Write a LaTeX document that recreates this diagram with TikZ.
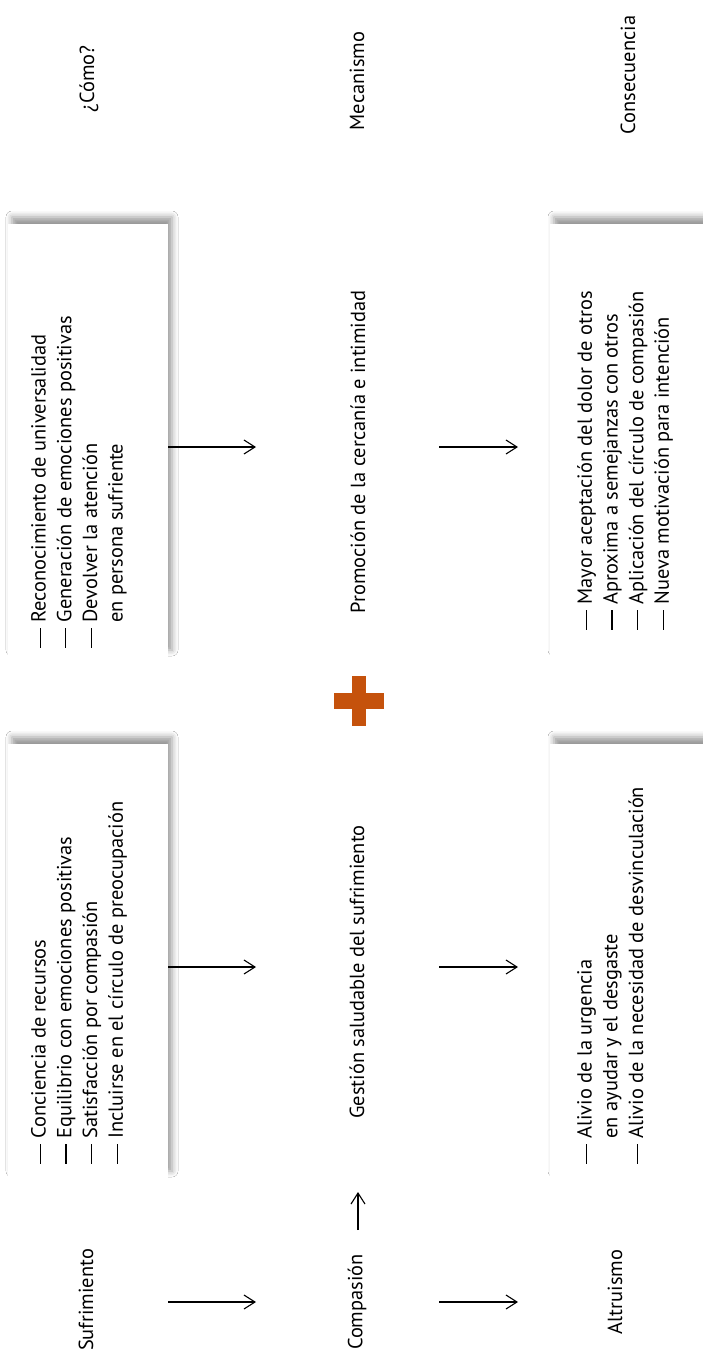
\documentclass[tikz,border=0pt]{standalone}
\usepackage{fontspec}
\setmainfont{PT Sans}
\usepackage{tikz}
\usetikzlibrary{arrows.meta,positioning,shadows.blur}
\definecolor{plusorange}{RGB}{197,82,12}
\newcommand{\dsh}{\rule[0.24em]{0.98em}{0.06em}\ }

\begin{document}
\begin{tikzpicture}[x=1pt, y=-1pt, font=\fontsize{20.4}{25.7}\selectfont,
  lbl/.style={rotate=90, inner sep=0pt},
  items/.style={rotate=90, align=left, inner sep=0pt, anchor=north west},
  card/.style={fill=white, inner sep=0pt, blur shadow={shadow xshift=4pt, shadow yshift=7pt, shadow blur radius=6pt, shadow opacity=40}},
  arr/.style={-{Straight Barb[length=11pt,width=14pt]}, line width=1.1pt}]
  \useasboundingbox[fill=white] (0,0) rectangle (702,1357);
  \node[card, minimum width=160, minimum height=433] (b1) at (88,440.5) {};
  \node[card, minimum width=160, minimum height=434] (b2) at (88,961) {};
  \node[card, minimum width=162, minimum height=433] (b3) at (631,440.5) {};
  \node[card, minimum width=162, minimum height=434] (b4) at (631,961) {};
  \node[lbl] (como) at (89,79) {¿Cómo?};
  \node[lbl] (meca) at (357,81) {Mecanismo};
  \node[lbl] (cons) at (628,75) {Consecuencia};
  \node[items] (t1) at (31,648) {\dsh Reconocimiento de universalidad\\\dsh Generación de emociones positivas\\\dsh Devolver la atención\\\hphantom{\dsh}en persona sufriente};
  \node[items] (t2) at (31,1164) {\dsh Conciencia de recursos\\\dsh Equilibrio con emociones positivas\\\dsh Satisfacción por compasión\\\dsh Incluirse en el círculo de preocupación};
  \node[items] (t3) at (577,630) {\dsh Mayor aceptación del dolor de otros\\\dsh Aproxima a semejanzas con otros\\\dsh Aplicación del círculo de compasión\\\dsh Nueva motivación para intención};
  \node[items] (t4) at (577,1164) {\dsh Alivio de la urgencia\\\hphantom{\dsh}en ayudar y el desgaste\\\dsh Alivio de la necesidad de desvinculación};
  \node[lbl] (prom) at (358,452) {Promoción de la cercanía e intimidad};
  \node[lbl] (gest) at (357,972) {Gestión saludable del sufrimiento};
  \node[lbl] (sufr) at (86,1300) {Sufrimiento};
  \node[lbl] (comp) at (357,1302) {Compasión};
  \node[lbl] (altr) at (615,1292) {Altruismo};
  \fill[plusorange] (334,693) rectangle (384,709);
  \fill[plusorange] (352,676) rectangle (366,726);
  \foreach \n/\y in {a/447,b/967,c/1302} {
    \coordinate (\n1) at (168,\y); \coordinate (\n2) at (256,\y);
    \coordinate (\n3) at (439,\y); \coordinate (\n4) at (518,\y);
    \draw[arr] (\n1) -- (\n2);
    \draw[arr] (\n3) -- (\n4);
  }
  \coordinate (u0) at (358,1230); \coordinate (u1) at (358,1192);
  \draw[arr] (u0) -- (u1);
\end{tikzpicture}
\end{document}
